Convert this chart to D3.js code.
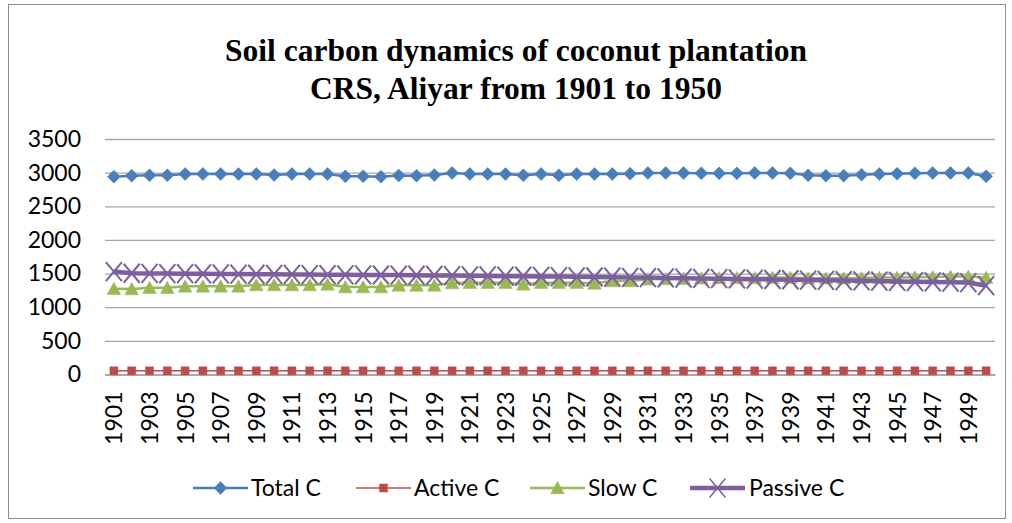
<!DOCTYPE html>
<html>
<head>
<meta charset="utf-8">
<script src="https://cdn.jsdelivr.net/npm/d3@7"></script>
<style>
  html, body { margin: 0; padding: 0; background: #fff; }
  svg { display: block; }
</style>
</head>
<body>
<svg id="chart" width="1012" height="523"></svg>
<script>
const years = d3.range(1901, 1951);

const totalC = [2940, 2955, 2960, 2960, 2980, 2980, 2980, 2980, 2980, 2965,
                2980, 2980, 2980, 2945, 2945, 2940, 2958, 2955, 2965, 2995,
                2980, 2980, 2980, 2960, 2980, 2960, 2980, 2980, 2980, 2985,
                2995, 2995, 2995, 2990, 2990, 2990, 2995, 2995, 2990, 2960,
                2955, 2955, 2970, 2980, 2985, 2990, 2995, 2995, 2995, 2945];

const activeC = [55, 55, 55, 55, 55, 55, 55, 55, 55, 55,
                 55, 55, 55, 55, 55, 55, 55, 55, 55, 55,
                 55, 55, 55, 55, 55, 55, 55, 55, 55, 55,
                 55, 55, 55, 55, 55, 55, 55, 55, 55, 55,
                 55, 55, 55, 55, 55, 55, 55, 55, 55, 55];

const slowC = [1275, 1270, 1290, 1290, 1310, 1310, 1310, 1310, 1330, 1330,
               1330, 1330, 1340, 1300, 1300, 1300, 1325, 1325, 1325, 1360,
               1365, 1365, 1365, 1340, 1365, 1365, 1365, 1355, 1390, 1390,
               1415, 1420, 1425, 1430, 1435, 1435, 1435, 1440, 1440, 1430,
               1430, 1430, 1435, 1440, 1440, 1445, 1450, 1455, 1455, 1440];

const passiveC = [1530, 1505, 1502, 1500, 1498, 1496, 1494, 1492, 1490, 1489,
                  1487, 1485, 1483, 1482, 1480, 1479, 1477, 1475, 1472, 1470,
                  1467, 1465, 1462, 1460, 1457, 1455, 1452, 1449, 1446, 1443,
                  1440, 1436, 1432, 1428, 1424, 1420, 1416, 1412, 1408, 1404,
                  1400, 1396, 1392, 1388, 1384, 1380, 1376, 1372, 1366, 1320];

const yTicks = [0, 500, 1000, 1500, 2000, 2500, 3000, 3500];
const xTickLabels = years.filter((y, i) => i % 2 === 0);
const seriesNames = ["Total C", "Active C", "Slow C", "Passive C"];
const titleLines = ["Soil carbon dynamics of coconut plantation", "CRS, Aliyar from 1901 to 1950"];

const colors = {
  "Total C": "#4A7EBB",
  "Active C": "#BE4B48",
  "Slow C": "#98B954",
  "Passive C": "#7D5FA0"
};

const series = [
  { name: "Total C", values: totalC, marker: "diamond", width: 2.5 },
  { name: "Active C", values: activeC, marker: "square", width: 1.5 },
  { name: "Slow C", values: slowC, marker: "triangle", width: 2.5 },
  { name: "Passive C", values: passiveC, marker: "x", width: 4.5 }
];

const svg = d3.select("#chart");
const labelFont = "Lato, 'Liberation Sans', sans-serif";

// outer border
svg.append("rect")
  .attr("x", 8.5).attr("y", 4.5)
  .attr("width", 997).attr("height", 514)
  .attr("fill", "#fff").attr("stroke", "#8c8c8c").attr("stroke-width", 1);

// title
svg.append("g").selectAll("text").data(titleLines).join("text")
  .attr("x", 516)
  .attr("y", (d, i) => 61 + i * 38)
  .attr("text-anchor", "middle")
  .attr("font-family", "'Liberation Serif', 'Times New Roman', serif")
  .attr("font-weight", "bold")
  .attr("font-size", 31.5)
  .attr("fill", "#000")
  .text(d => d);

const pLeft = 105, pRight = 995, pTop = 139, pBottom = 374.5;

const x = d3.scalePoint().domain(years).range([pLeft, pRight]).padding(0.5);
const y = d3.scaleLinear().domain([0, 3500]).range([pBottom, pTop]);

// gridlines + y labels
const yAxis = d3.axisLeft(y).tickValues(yTicks).tickFormat(d3.format("d"))
  .tickSize(-(pRight - pLeft)).tickPadding(24);
const gy = svg.append("g").attr("transform", `translate(${pLeft},0)`).call(yAxis);
gy.select(".domain").remove();
gy.selectAll(".tick line").attr("stroke", "#a6a6a6").attr("stroke-width", 1.3);
gy.selectAll(".tick text")
  .attr("font-family", labelFont).attr("font-size", 23).attr("fill", "#000");

// x axis
const xAxis = d3.axisBottom(x).tickValues(xTickLabels).tickFormat(d3.format("d"))
  .tickSize(0).tickPadding(0);
const gx = svg.append("g").attr("transform", `translate(0,${pBottom})`).call(xAxis);
gx.select(".domain").attr("stroke", "#a6a6a6").attr("stroke-width", 1.3);
gx.selectAll(".tick text")
  .attr("font-family", labelFont).attr("font-size", 23).attr("fill", "#000")
  .attr("transform", "rotate(-90)")
  .attr("text-anchor", "end")
  .attr("dy", "0.35em")
  .attr("x", -17).attr("y", 0);

function markerPath(type) {
  const p = d3.path();
  if (type === "diamond") {
    const r = 6.5;
    p.moveTo(0, -r); p.lineTo(r, 0); p.lineTo(0, r); p.lineTo(-r, 0); p.closePath();
  } else if (type === "square") {
    const r = 4;
    p.rect(-r, -r, 2 * r, 2 * r);
  } else if (type === "triangle") {
    p.moveTo(0, -6.5); p.lineTo(6.8, 5.8); p.lineTo(-6.8, 5.8); p.closePath();
  } else if (type === "x") {
    p.moveTo(-8, -9.5); p.lineTo(8, 9.5);
    p.moveTo(8, -9.5); p.lineTo(-8, 9.5);
  }
  return p.toString();
}

const line = d3.line().x((d, i) => x(years[i])).y(d => y(d));

series.forEach(s => {
  const g = svg.append("g");
  g.append("path").datum(s.values)
    .attr("d", line)
    .attr("fill", "none")
    .attr("stroke", colors[s.name])
    .attr("stroke-width", s.width)
    .attr("stroke-linejoin", "round");
  g.selectAll("path.m").data(s.values).join("path")
    .attr("class", "m")
    .attr("transform", (d, i) => `translate(${x(years[i])},${y(d)})`)
    .attr("d", markerPath(s.marker))
    .attr("fill", s.marker === "x" ? "none" : colors[s.name])
    .attr("stroke", colors[s.name])
    .attr("stroke-width", s.marker === "x" ? 2 : 0.5);
});

// legend
const legendItems = [
  { s: series[0], lx: 193, tx: 251 },
  { s: series[1], lx: 356, tx: 414 },
  { s: series[2], lx: 530, tx: 588 },
  { s: series[3], lx: 690, tx: 749 }
];
const ly = 488;
const lg = svg.append("g");
legendItems.forEach(it => {
  const c = colors[it.s.name];
  lg.append("line")
    .attr("x1", it.lx).attr("x2", it.lx + 55)
    .attr("y1", ly).attr("y2", ly)
    .attr("stroke", c).attr("stroke-width", it.s.width);
  lg.append("path")
    .attr("transform", `translate(${it.lx + 27.5},${ly})`)
    .attr("d", markerPath(it.s.marker))
    .attr("fill", it.s.marker === "x" ? "none" : c)
    .attr("stroke", c)
    .attr("stroke-width", it.s.marker === "x" ? 1.5 : 0.5);
  lg.append("text")
    .attr("x", it.tx).attr("y", ly)
    .attr("dy", "0.35em")
    .attr("font-family", labelFont).attr("font-size", 23).attr("fill", "#000")
    .text(it.s.name);
});
</script>
</body>
</html>
